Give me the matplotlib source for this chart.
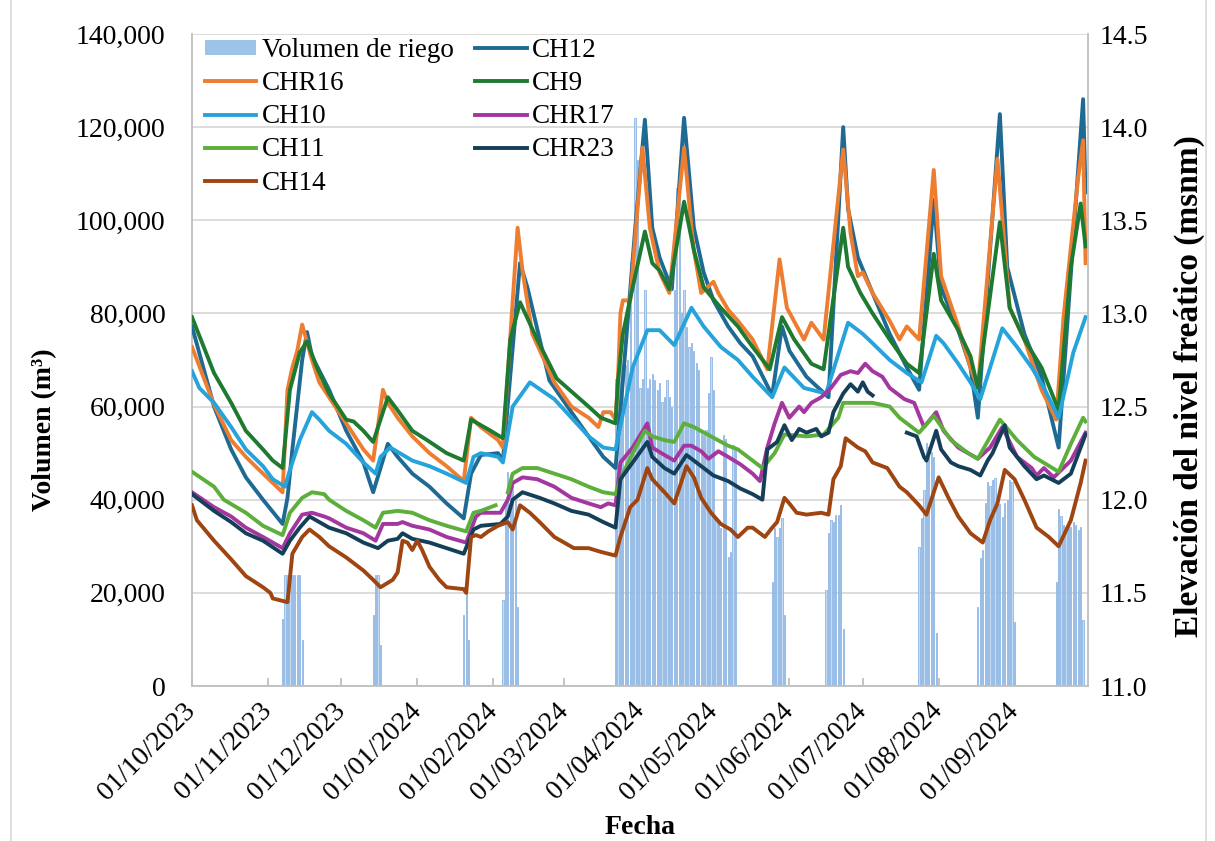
import numpy as np
import pandas as pd
import matplotlib
matplotlib.use('Agg')
import matplotlib.pyplot as plt
import matplotlib.dates as mdates
from matplotlib.ticker import FuncFormatter
from matplotlib.patches import Patch, Rectangle

plt.rcParams['font.family'] = ['Liberation Serif', 'DejaVu Serif']
plt.rcParams['font.size'] = 20

# Fecha de inicio; los datos van en dias desde el 01/10/2023
fecha0 = pd.Timestamp('2023-10-01')

# Volumen de riego diario (m3)
dias_riego = [*range(37, 46), *range(74, 78), *range(111, 114), *range(127, 134),
              *range(173, 223), *range(237, 243), *range(259, 267), *range(297, 305),
              *range(321, 337), *range(353, 365)]
vol_riego = [14400, 23800, 23800, 23800, 23800, 23800, 23800, 23800, 9900,
             15200, 23800, 23800, 8800,
             15200, 23800, 9900,
             18500, 40000, 46000, 45000, 43000, 40000, 17000,
             66000, 68000, 70000, 67000, 69000, 70000, 91000, 68500, 122000, 113000,
             64000, 66000, 85000, 64000, 66000, 67000, 65700, 63600, 65000, 61000,
             62000, 65700, 62000, 60000, 85000, 107000, 108700, 80000, 85000, 77000,
             72800, 73600, 72000, 69400, 67900, 55000, 54000, 55000, 63000, 70600,
             63600, 35600, 35000, 34000, 54000, 53000, 27700, 28800, 51700, 51000,
             22300, 33900, 32000, 33900, 36100, 15200,
             20600, 32900, 35600, 35200, 36700, 36700, 38900, 12200,
             29800, 36100, 42100, 52200, 51300, 50200, 49200, 11400,
             17000, 27500, 29200, 39300, 43800, 42900, 44200, 44700, 39300, 39100,
             36300, 39300, 39900, 44200, 43800, 13700,
             22300, 38000, 36500, 34600, 34100, 35000, 34100, 35200, 34600, 33500,
             34100, 14200]

# Elevacion del nivel freatico (msnm) por piezometro
dias_ch12 = [0, 9, 16, 22, 29, 37, 39, 41, 45, 47, 49, 56, 63, 70, 74, 80, 84, 90, 97, 104,
             111, 114, 118, 125, 127, 134, 137, 146, 155, 162, 168, 173, 176, 181, 185, 188,
             191, 196, 201, 205, 209, 213, 219, 224, 229, 237, 241, 244, 251, 260, 266, 268,
             272, 278, 285, 292, 297, 303, 306, 313, 318, 321, 330, 333, 340, 347, 354, 364, 365]
ch12 = [12.93, 12.50, 12.27, 12.12, 12.00, 11.87, 12.01, 12.27, 12.75, 12.90, 12.77, 12.59,
        12.37, 12.20, 12.04, 12.30, 12.23, 12.14, 12.07, 11.98, 11.90, 12.14, 12.24, 12.25,
        12.21, 13.27, 13.14, 12.64, 12.47, 12.34, 12.23, 12.17, 12.64, 13.45, 14.04, 13.46,
        13.30, 13.13, 14.05, 13.46, 13.22, 13.07, 12.93, 12.84, 12.77, 12.56, 12.93, 12.80,
        12.66, 12.55, 14.00, 13.56, 13.30, 13.11, 12.89, 12.71, 12.59, 13.61, 13.14, 12.91,
        12.71, 12.44, 14.07, 13.25, 12.89, 12.66, 12.28, 14.15, 13.65]

dias_chr16 = [0, 9, 16, 22, 29, 37, 39, 41, 43, 45, 49, 52, 56, 63, 70, 74, 78, 80, 84, 90,
              97, 104, 111, 114, 118, 125, 127, 133, 135, 139, 148, 155, 162, 166, 168, 171,
              173, 174, 175, 176, 179, 184, 187, 191, 195, 201, 204, 205, 208, 213, 215, 219,
              223, 229, 235, 240, 243, 250, 253, 258, 266, 269, 272, 274, 278, 285, 289, 292,
              297, 303, 306, 313, 318, 321, 329, 334, 340, 347, 353, 356, 362, 364, 365]
chr16 = [12.82, 12.51, 12.32, 12.23, 12.14, 12.04, 12.59, 12.71, 12.80, 12.94, 12.75, 12.63,
         12.55, 12.41, 12.27, 12.21, 12.59, 12.52, 12.44, 12.34, 12.25, 12.18, 12.10, 12.44,
         12.39, 12.32, 12.28, 13.46, 13.23, 12.89, 12.63, 12.50, 12.44, 12.39, 12.47, 12.47,
         12.43, 12.64, 13.00, 13.07, 13.07, 13.89, 13.46, 13.22, 13.11, 13.89, 13.46, 13.34,
         13.11, 13.17, 13.11, 13.02, 12.96, 12.86, 12.70, 13.29, 13.03, 12.86, 12.95, 12.86,
         13.88, 13.43, 13.20, 13.22, 13.11, 12.96, 12.86, 12.93, 12.86, 13.77, 13.20, 12.93,
         12.71, 12.60, 13.83, 13.03, 12.86, 12.59, 12.43, 12.98, 13.73, 13.93, 13.27]

dias_ch9 = [0, 9, 16, 22, 29, 33, 37, 40, 44, 47, 51, 56, 63, 66, 70, 74, 80, 84, 90, 96,
            104, 111, 114, 122, 127, 130, 134, 141, 149, 162, 167, 173, 174, 176, 180, 185,
            188, 191, 195, 201, 205, 209, 216, 223, 229, 236, 241, 246, 253, 258, 266, 268,
            273, 278, 285, 292, 297, 303, 306, 313, 318, 321, 330, 334, 340, 347, 354, 359,
            363, 365]
ch9 = [12.98, 12.68, 12.52, 12.37, 12.27, 12.21, 12.17, 12.59, 12.79, 12.85, 12.71, 12.57,
       12.43, 12.42, 12.37, 12.31, 12.55, 12.48, 12.37, 12.32, 12.25, 12.21, 12.43, 12.37,
       12.33, 12.86, 13.06, 12.86, 12.65, 12.50, 12.44, 12.41, 12.64, 12.89, 13.14, 13.44,
       13.27, 13.23, 13.13, 13.60, 13.34, 13.14, 13.03, 12.93, 12.82, 12.70, 12.98, 12.86,
       12.73, 12.70, 13.46, 13.25, 13.11, 13.00, 12.86, 12.73, 12.68, 13.32, 13.07, 12.91,
       12.77, 12.60, 13.49, 13.03, 12.86, 12.71, 12.48, 13.25, 13.59, 13.36]

dias_ch10 = [0, 3, 9, 16, 22, 29, 33, 38, 40, 44, 49, 52, 56, 63, 70, 75, 77, 81, 90, 97,
             104, 112, 115, 118, 125, 127, 131, 138, 148, 155, 162, 168, 173, 180, 186, 191,
             197, 204, 209, 216, 223, 229, 237, 242, 250, 259, 268, 274, 278, 285, 292, 298,
             304, 307, 313, 318, 322, 331, 337, 343, 348, 354, 360, 365]
ch10 = [12.69, 12.60, 12.52, 12.39, 12.27, 12.18, 12.11, 12.07, 12.16, 12.32, 12.47, 12.43,
        12.37, 12.30, 12.20, 12.14, 12.23, 12.28, 12.21, 12.18, 12.14, 12.09, 12.23, 12.25,
        12.23, 12.20, 12.50, 12.63, 12.54, 12.44, 12.34, 12.28, 12.27, 12.71, 12.91, 12.91,
        12.83, 13.03, 12.93, 12.82, 12.75, 12.66, 12.55, 12.71, 12.60, 12.57, 12.95, 12.89,
        12.84, 12.75, 12.68, 12.63, 12.88, 12.84, 12.73, 12.63, 12.54, 12.92, 12.82, 12.71,
        12.60, 12.44, 12.79, 12.98]

dias_chr17 = [0, 9, 16, 22, 29, 37, 40, 45, 49, 54, 56, 63, 70, 75, 78, 84, 86, 90, 97, 104,
              112, 116, 118, 126, 129, 131, 135, 141, 148, 155, 162, 167, 170, 173, 175, 180,
              186, 188, 193, 197, 201, 204, 208, 211, 215, 219, 224, 229, 232, 235, 238, 241,
              244, 248, 250, 253, 257, 261, 265, 269, 272, 275, 278, 282, 285, 291, 295, 299,
              304, 307, 313, 321, 326, 331, 337, 343, 345, 348, 352, 359, 365]
chr17 = [12.04, 11.96, 11.91, 11.85, 11.80, 11.74, 11.82, 11.92, 11.93, 11.91, 11.90, 11.85,
         11.82, 11.78, 11.87, 11.87, 11.88, 11.86, 11.84, 11.80, 11.77, 11.91, 11.93, 11.93,
         12.00, 12.09, 12.12, 12.11, 12.07, 12.01, 11.98, 11.96, 11.98, 11.97, 12.20, 12.28,
         12.41, 12.28, 12.24, 12.21, 12.29, 12.29, 12.26, 12.22, 12.26, 12.23, 12.19, 12.14,
         12.10, 12.28, 12.41, 12.52, 12.44, 12.50, 12.47, 12.52, 12.55, 12.60, 12.67, 12.69,
         12.68, 12.73, 12.69, 12.66, 12.60, 12.54, 12.52, 12.39, 12.47, 12.37, 12.28, 12.22,
         12.28, 12.39, 12.23, 12.17, 12.13, 12.17, 12.12, 12.21, 12.36]

# CH11 sin datos a finales de enero (nan = hueco)
dias_ch11 = [0, 9, 13, 22, 29, 37, 40, 45, 49, 54, 56, 63, 70, 75, 78, 84, 90, 97, 104, 112,
             115, 118, 124, 126, 129, 131, 135, 141, 148, 155, 162, 168, 173, 175, 180, 185,
             188, 193, 197, 201, 205, 212, 219, 223, 229, 233, 238, 242, 251, 258, 264, 266,
             272, 278, 285, 289, 297, 303, 310, 317, 321, 330, 337, 344, 354, 359, 364, 365]
ch11 = [12.15, 12.07, 12.00, 11.93, 11.86, 11.81, 11.93, 12.01, 12.04, 12.03, 12.00, 11.94,
        11.89, 11.85, 11.93, 11.94, 11.93, 11.89, 11.86, 11.83, 11.93, 11.94, 11.97, np.nan,
        12.04, 12.14, 12.17, 12.17, 12.14, 12.11, 12.07, 12.04, 12.03, 12.11, 12.25, 12.37,
        12.34, 12.32, 12.31, 12.41, 12.39, 12.34, 12.29, 12.27, 12.21, 12.17, 12.25, 12.35,
        12.34, 12.35, 12.44, 12.52, 12.52, 12.52, 12.50, 12.44, 12.36, 12.45, 12.32, 12.25,
        12.22, 12.43, 12.32, 12.23, 12.15, 12.30, 12.44, 12.42]

# CHR23 sin datos a finales de julio
dias_chr23 = [0, 9, 16, 22, 29, 37, 40, 44, 48, 52, 56, 63, 70, 76, 80, 84, 86, 90, 97, 104,
              111, 115, 118, 126, 129, 131, 135, 142, 148, 155, 162, 168, 173, 175, 180, 186,
              188, 193, 197, 202, 208, 213, 219, 224, 229, 233, 235, 239, 242, 245, 248, 251,
              255, 257, 260, 262, 266, 269, 272, 274, 276, 278, 285, 292, 296, 299, 300, 304,
              306, 310, 313, 318, 322, 325, 327, 332, 334, 340, 345, 348, 354, 359, 365]
chr23 = [12.03, 11.94, 11.88, 11.82, 11.78, 11.71, 11.78, 11.85, 11.91, 11.88, 11.85, 11.82,
         11.77, 11.74, 11.78, 11.79, 11.82, 11.79, 11.77, 11.74, 11.71, 11.84, 11.86, 11.87,
         11.91, 12.00, 12.04, 12.01, 11.98, 11.94, 11.92, 11.88, 11.85, 12.11, 12.20, 12.31,
         12.23, 12.17, 12.14, 12.24, 12.18, 12.13, 12.10, 12.06, 12.03, 12.00, 12.27, 12.31,
         12.40, 12.32, 12.38, 12.36, 12.38, 12.34, 12.36, 12.47, 12.57, 12.62, 12.58, 12.63,
         12.58, 12.56, np.nan, 12.36, 12.34, 12.23, 12.21, 12.37, 12.27, 12.20, 12.18, 12.16,
         12.13, 12.21, 12.25, 12.40, 12.28, 12.18, 12.11, 12.13, 12.09, 12.14, 12.35]

dias_ch14 = [0, 2, 9, 16, 22, 29, 32, 33, 39, 41, 45, 48, 52, 56, 63, 70, 74, 77, 82, 84,
             86, 88, 90, 92, 94, 97, 101, 104, 111, 112, 114, 116, 118, 121, 125, 129, 131,
             134, 138, 142, 148, 156, 162, 167, 173, 175, 179, 182, 186, 188, 193, 197, 202,
             205, 208, 212, 216, 220, 223, 227, 229, 234, 237, 239, 242, 244, 247, 251, 257,
             260, 262, 265, 267, 272, 275, 278, 284, 289, 292, 297, 300, 305, 309, 313, 318,
             323, 326, 329, 332, 336, 340, 345, 350, 354, 359, 363, 365]
ch14 = [11.97, 11.89, 11.78, 11.68, 11.59, 11.53, 11.50, 11.47, 11.45, 11.71, 11.80, 11.84,
        11.80, 11.75, 11.69, 11.62, 11.57, 11.53, 11.57, 11.61, 11.78, 11.77, 11.73, 11.78,
        11.73, 11.64, 11.57, 11.53, 11.52, 11.50, 11.80, 11.81, 11.80, 11.83, 11.86, 11.88,
        11.84, 11.97, 11.93, 11.88, 11.80, 11.74, 11.74, 11.72, 11.70, 11.80, 11.96, 12.00,
        12.17, 12.11, 12.04, 11.98, 12.18, 12.12, 12.01, 11.93, 11.87, 11.84, 11.80, 11.85,
        11.85, 11.80, 11.85, 11.88, 12.01, 11.98, 11.93, 11.92, 11.93, 11.92, 12.11, 12.18,
        12.33, 12.28, 12.26, 12.20, 12.17, 12.07, 12.04, 11.97, 11.92, 12.12, 12.01, 11.91,
        11.82, 11.77, 11.89, 11.98, 12.16, 12.11, 12.00, 11.85, 11.80, 11.75, 11.89, 12.09,
        12.21]

series = [
    ('CH12', dias_ch12, ch12, '#1F6A93'),
    ('CHR16', dias_chr16, chr16, '#ED7D31'),
    ('CH9', dias_ch9, ch9, '#1E7A31'),
    ('CH10', dias_ch10, ch10, '#27A3DB'),
    ('CHR17', dias_chr17, chr17, '#A3379F'),
    ('CH11', dias_ch11, ch11, '#5DAF3B'),
    ('CHR23', dias_chr23, chr23, '#153F59'),
    ('CH14', dias_ch14, ch14, '#9E4512'),
]


def a_fecha(dias):
    return fecha0 + pd.to_timedelta(dias, unit='D')


W, H = 1215, 841
fig = plt.figure(figsize=(W / 100, H / 100), dpi=100)
ax = fig.add_axes([192 / W, 1 - 686 / H, (1088 - 192) / W, (686 - 34) / H])
ax2 = ax.twinx()

gris = '#BFBFBF'

# barras de riego (eje izquierdo)
ax.bar(a_fecha(dias_riego), vol_riego, width=0.5, color='#C6DDF4',
       edgecolor='#8DB6E3', linewidth=0.6, zorder=2)
ax.set_ylim(0, 140000)
ax.set_yticks(np.arange(0, 140001, 20000))
ax.yaxis.set_major_formatter(FuncFormatter(lambda v, p: f'{v:,.0f}'))
ax.set_axisbelow(True)
ax.yaxis.grid(True, color='#D9D9D9', linewidth=1.3)
ax.tick_params(axis='y', length=0, pad=19)

# lineas de nivel freatico (eje derecho)
lineas = {}
for nombre, dias, vals, color in series:
    l, = ax2.plot(a_fecha(dias), vals, color=color, linewidth=2.8,
                  solid_joinstyle='round', label=nombre)
    lineas[nombre] = l
ax2.set_ylim(11.0, 14.5)
ax2.set_yticks(np.arange(11.0, 14.51, 0.5))
ax2.yaxis.set_major_formatter(FuncFormatter(lambda v, p: f'{v:.1f}'))
ax2.tick_params(axis='y', length=0, pad=8)

# eje de fechas
ax.set_xlim(fecha0, fecha0 + pd.Timedelta(days=366))
meses = pd.date_range('2023-10-01', '2024-09-01', freq='MS')
ax.set_xticks(meses)
ax.xaxis.set_major_formatter(mdates.DateFormatter('%d/%m/%Y'))
ax.tick_params(axis='x', direction='in', length=5.5, width=1.3, color=gris, pad=15)
for t in ax.get_xticklabels():
    t.set_rotation(45)
    t.set_ha('right')
    t.set_va('center')
    t.set_rotation_mode('anchor')

for s in ['top']:
    ax.spines[s].set_visible(False)
    ax2.spines[s].set_visible(False)
for s in ['left', 'bottom']:
    ax2.spines[s].set_visible(False)
ax.spines['right'].set_visible(False)
ax.spines['left'].set_color(gris)
ax.spines['bottom'].set_color(gris)
ax2.spines['right'].set_color(gris)
for sp in [ax.spines['left'], ax.spines['bottom'], ax2.spines['right']]:
    sp.set_linewidth(1.3)

# leyenda (2 columnas, orden como en el original)
parche = Patch(facecolor='#9DC3E6', edgecolor='none', label='Volumen de riego')
orden = ['CHR16', 'CH10', 'CH11', 'CH14', 'CH12', 'CH9', 'CHR17', 'CHR23']
handles = [parche] + [lineas[n] for n in orden]
ax2.legend(handles=handles, labels=[h.get_label() for h in handles], ncol=2,
           loc='upper left', bbox_to_anchor=(205 / W, 1 - 38 / H),
           bbox_transform=fig.transFigure, frameon=False, fontsize=19.5,
           borderaxespad=0, borderpad=0, handlelength=1.9, handleheight=0.5,
           handletextpad=0.2, columnspacing=0.8, labelspacing=0.3)

# titulos de ejes
fig.text(45 / W, 1 - 430 / H, 'Volumen (m³)', rotation=90, fontweight='bold',
         fontsize=20, ha='center', va='center')
fig.text(1189 / W, 1 - 386 / H, 'Elevación del nivel freático (msnm)', rotation=90,
         fontweight='bold', fontsize=24, ha='center', va='center')
fig.text(640 / W, 1 - 828 / H, 'Fecha', fontweight='bold', fontsize=20,
         ha='center', va='center')

# marco del area del grafico
fig.add_artist(Rectangle((11 / W, -0.01), (1206 - 11) / W, 1.02, transform=fig.transFigure,
                         fill=False, edgecolor='#D9D9D9', linewidth=1.2))

fig.savefig('out.png', dpi=100)
